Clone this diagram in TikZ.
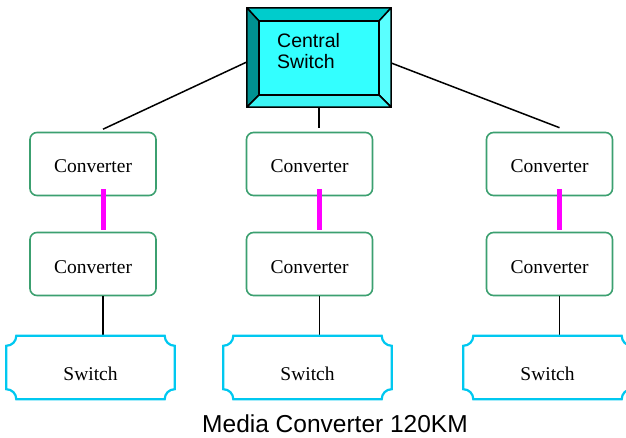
\documentclass[tikz,border=0pt]{standalone}
\usepackage{fontspec}
\setmainfont{Liberation Serif}
\newfontfamily\arialfont{Liberation Sans}
\usepackage{tikz}
\definecolor{convgreen}{RGB}{60,160,112}
\definecolor{swcyan}{RGB}{0,200,240}
\definecolor{fibrepink}{RGB}{255,0,255}
\definecolor{cscyan}{RGB}{51,255,255}
\definecolor{bevtop}{RGB}{0,204,204}
\definecolor{bevleft}{RGB}{0,145,145}
\definecolor{bevright}{RGB}{90,255,255}
\definecolor{bevbottom}{RGB}{60,245,245}

\begin{document}
\begin{tikzpicture}[x=1pt,y=1pt,
			conv/.style={draw=convgreen, line width=1.6pt, rounded corners=7pt,
				minimum width=126pt, minimum height=63pt, text height=18pt, text depth=0pt,
				font=\fontsize{19.5}{22}\selectfont},
			swt/.style={minimum width=168pt, minimum height=63pt, inner sep=0pt,
				text height=25pt, text depth=0pt,
				font=\fontsize{19.5}{22}\selectfont},
			plaque/.style={draw=swcyan, line width=2.2pt},
			bevel/.style={draw=black, line width=1.5pt, line join=round},
			link/.style={draw=black, line width=1.5pt},
			fibre/.style={draw=fibrepink, line width=5pt}]
			\useasboundingbox (0,0) rectangle (626,-438);
			\node[minimum width=144pt, minimum height=99pt, inner sep=0pt] (cs) at (319,-57.5) {};
			\coordinate (inw) at ([shift={(12,-13)}]cs.north west);
			\coordinate (ine) at ([shift={(-12,-13)}]cs.north east);
			\coordinate (ise) at ([shift={(-12,12)}]cs.south east);
			\coordinate (isw) at ([shift={(12,12)}]cs.south west);
			\filldraw[bevel, fill=bevtop] (cs.north west) -- (cs.north east) -- (ine) -- (inw) -- cycle;
			\filldraw[bevel, fill=bevleft] (cs.north west) -- (inw) -- (isw) -- (cs.south west) -- cycle;
			\filldraw[bevel, fill=bevright] (cs.north east) -- (cs.south east) -- (ise) -- (ine) -- cycle;
			\filldraw[bevel, fill=bevbottom] (cs.south west) -- (isw) -- (ise) -- (cs.south east) -- cycle;
			\filldraw[bevel, fill=cscyan] (inw) rectangle (ise);
			\node[font=\arialfont\fontsize{19.5}{21}\selectfont, align=left, anchor=north west, inner sep=0pt]
				(cslabel) at (277,-33) {Central\\Switch};
			\node[conv] (c11) at (93,-164) {Converter};
			\node[conv] (c12) at (309.5,-164) {Converter};
			\node[conv] (c13) at (549.5,-164) {Converter};
			\node[conv] (c21) at (93,-264) {Converter};
			\node[conv] (c22) at (309.5,-264) {Converter};
			\node[conv] (c23) at (549.5,-264) {Converter};
			\node[swt] (s1) at (90.5,-367.5) {Switch};
			\node[swt] (s2) at (307.5,-367.5) {Switch};
			\node[swt] (s3) at (547.5,-367.5) {Switch};
			\draw[link] ([yshift=-4.5pt]cs.west) -- ([xshift=10pt,yshift=2.5pt]c11.north);
			\draw[link] (cs.south) -- ([yshift=4pt]cs.south |- c12.north);
			\draw[link] ([yshift=-5.5pt]cs.east) -- ([xshift=10pt,yshift=4pt]c13.north);
			\foreach \i in {1,2,3} {
				\draw[fibre] ([xshift=10pt,yshift=7pt]c1\i.south) -- ([xshift=10pt,yshift=1.5pt]c2\i.north);
				\draw[link] ([xshift=10pt]c2\i.south) -- ([xshift=10pt]c2\i.south |- s\i.north);
				\draw[plaque] ([xshift=10pt]s\i.north west) -- ([xshift=-10pt]s\i.north east) arc(180:270:10pt)
					-- ([yshift=10pt]s\i.south east) arc(90:180:10pt)
					-- ([xshift=10pt]s\i.south west) arc(0:90:10pt)
					-- ([yshift=-10pt]s\i.north west) arc(270:360:10pt) -- cycle;
			}
			\node[font=\arialfont\fontsize{24.5}{28}\selectfont] (caption) at (335,-424) {Media Converter 120KM};
			\end{tikzpicture}
\end{document}
